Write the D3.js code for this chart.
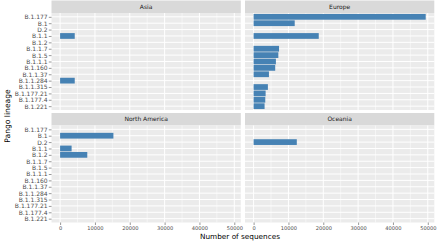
<!DOCTYPE html>
<html><head><meta charset="utf-8">
<script src="https://cdn.jsdelivr.net/npm/d3@7/dist/d3.min.js"></script>
<style>
html,body{margin:0;padding:0;background:#fff;}
svg{display:block;font-family:"DejaVu Sans",sans-serif;}
</style></head>
<body><svg id="c" width="440" height="246"></svg>
<script>
const lineages = ["B.1.177","B.1","D.2","B.1.1","B.1.2","B.1.1.7","B.1.5","B.1.1.1","B.1.160","B.1.1.37","B.1.1.284","B.1.1.315","B.1.177.21","B.1.177.4","B.1.221"];
const regions = ["Asia","Europe","North America","Oceania"];
const asiaValues =    [0,0,0,4200,0,0,0,0,0,0,4200,0,0,0,0];
const europeValues =  [49400,11800,0,18700,0,7300,7100,6400,6200,4400,0,4100,3450,3350,3150];
const namericaValues =[0,15300,0,3300,7800,0,0,0,0,0,0,0,0,0,0];
const oceaniaValues = [0,0,12400,0,0,0,0,0,0,0,0,0,0,0,0];
const seriesValues = [asiaValues, europeValues, namericaValues, oceaniaValues];
const xTicks = [0,10000,20000,30000,40000,50000];
const xMinor = [5000,15000,25000,35000,45000];
const xTitle = "Number of sequences";
const yTitle = "Pango lineage";

const svg = d3.select("#c");
const colX = [51.5, 245], panelW = 189.3;
const rowY = [0.5, 113], stripH = 12.5, panelH = 97;
const maxV = d3.max(seriesValues.flat());
const x = d3.scaleLinear().domain([-0.05*maxV, 1.05*maxV]).range([0, panelW]);
const y = d3.scalePoint().domain(lineages).range([0, panelH]).padding(0.6);
const bh = y.step()*0.9;

regions.forEach((reg, i) => {
  const col = i % 2, row = Math.floor(i/2);
  const g = svg.append("g").attr("transform", `translate(${colX[col]},${rowY[row]})`);
  g.append("rect").attr("width", panelW).attr("height", stripH).attr("fill", "#D9D9D9");
  g.append("text").attr("x", panelW/2).attr("y", stripH/2 + 2.1).attr("text-anchor","middle")
    .attr("font-size", 6).attr("fill", "#1A1A1A").text(reg);
  const p = g.append("g").attr("transform", `translate(0,${stripH})`);
  p.append("rect").attr("width", panelW).attr("height", panelH).attr("fill", "#EBEBEB");
  p.selectAll("line.minor").data(xMinor).join("line").attr("class","minor")
    .attr("x1", d=>x(d)).attr("x2", d=>x(d)).attr("y1",0).attr("y2",panelH)
    .attr("stroke","#fff").attr("stroke-width",0.5);
  p.selectAll("line.majx").data(xTicks).join("line").attr("class","majx")
    .attr("x1", d=>x(d)).attr("x2", d=>x(d)).attr("y1",0).attr("y2",panelH)
    .attr("stroke","#fff").attr("stroke-width",1);
  p.selectAll("line.majy").data(lineages).join("line").attr("class","majy")
    .attr("y1", d=>y(d)).attr("y2", d=>y(d)).attr("x1",0).attr("x2",panelW)
    .attr("stroke","#fff").attr("stroke-width",1);
  const vals = seriesValues[i];
  p.selectAll("rect.bar").data(lineages.map((l,k)=>({l, v: vals[k]})).filter(d=>d.v>0))
    .join("rect").attr("class","bar")
    .attr("x", x(0)).attr("y", d=>y(d.l)-bh/2)
    .attr("width", d=>x(d.v)-x(0)).attr("height", bh)
    .attr("fill", "#4682B4");
  if (col === 0) {
    const ax = p.append("g").call(d3.axisLeft(y).tickSize(2.7).tickPadding(1.2));
    ax.select(".domain").remove();
    ax.selectAll("line").attr("stroke","#333333").attr("stroke-width",0.5);
    ax.selectAll("text").attr("font-size",6).attr("fill","#4D4D4D").attr("font-family","DejaVu Sans");
  }
  if (row === 1) {
    const ax = p.append("g").attr("transform", `translate(0,${panelH})`)
      .call(d3.axisBottom(x).tickValues(xTicks).tickFormat(d3.format("d")).tickSize(2.5).tickPadding(1.2));
    ax.select(".domain").remove();
    ax.selectAll("line").attr("stroke","#333333").attr("stroke-width",0.5);
    ax.selectAll("text").attr("font-size",5.1).attr("fill","#4D4D4D").attr("font-family","DejaVu Sans");
  }
});

svg.append("text").attr("x", 240).attr("y", 238.5).attr("text-anchor","middle")
  .attr("font-size", 7.3).attr("fill","#000").text(xTitle);
svg.append("text").attr("transform","translate(10.2,116) rotate(-90)").attr("text-anchor","middle")
  .attr("font-size", 7.6).attr("fill","#000").text(yTitle);
</script>
</body></html>
